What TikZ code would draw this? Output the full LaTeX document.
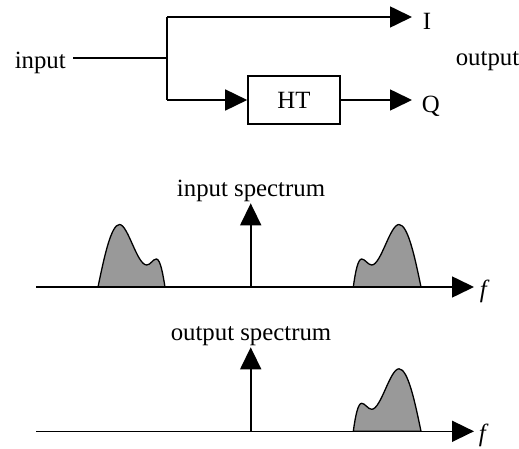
\documentclass[tikz,border=0pt]{standalone}
\usepackage{fontspec}
\setmainfont{Liberation Serif}
\usetikzlibrary{arrows.meta}
\begin{document}
\begin{tikzpicture}[x=1pt,y=-1pt, line width=1.6pt,
  tip/.style={-{Triangle[length=22pt,width=21pt]}},
  lbl/.style={inner sep=0pt, font=\fontsize{24.8}{29}\selectfont},
  ilbl/.style={inner sep=0pt, font=\fontsize{24.8}{29}\selectfont\itshape},
  htbox/.style={draw, minimum width=92pt, minimum height=48pt, inner sep=0pt, font=\fontsize{24.8}{29}\selectfont},
  bump/.style={fill=black!40, draw=black, line width=1.3pt}]
\useasboundingbox (0,0) rectangle (519,449);

% ---- block diagram ----
\node[lbl, anchor=base west] (inp) at (14,68.3) {input};
\coordinate (inl) at (73,58);
\coordinate (split) at (167,58);
\coordinate (top) at (167,17);
\coordinate (bot) at (167,100);
\node[htbox] (ht) at (294,100) {HT};
\coordinate (Itip) at (412,17);
\coordinate (Qtip) at (412,100);
\node[lbl, anchor=base west] (I) at (422,30) {I};
\node[lbl, anchor=base west] (Q) at (421,113) {Q};
\node[lbl, anchor=base west] (out) at (455,66) {output};

\draw (inl) -- (split);
\draw (top) -- (bot);
\draw[tip] (top) -- (Itip);
\draw[tip] (bot) -- (ht.west);
\draw[tip] (ht.east) -- (Qtip);

% ---- input spectrum ----
\filldraw[bump] (98,287) .. controls (104,258) and (111,224.5) .. (119.5,224.5)
  .. controls (128,224.5) and (137,265) .. (146.7,265)
  .. controls (150.5,265) and (153,259) .. (156.3,259)
  .. controls (160.5,259) and (163,275) .. (165,287) -- cycle;
\filldraw[bump] (353.3,287) .. controls (355.5,271) and (358,259) .. (361.7,259)
  .. controls (365,259) and (368,265) .. (371.7,265)
  .. controls (381,265) and (390,224.5) .. (399,224.5)
  .. controls (408,224.5) and (415,258) .. (421,287) -- cycle;
\coordinate (a1s) at (36,287);
\coordinate (a1e) at (474,287);
\draw[tip] (a1s) -- (a1e);
\node[ilbl, anchor=base west] (f1) at (479,297) {f};
\coordinate (v1s) at (250.7,287);
\coordinate (v1e) at (250.7,203.3);
\draw[tip] (v1s) -- (v1e);
\node[lbl, anchor=base] (ins) at (251,196.7) {input spectrum};

% ---- output spectrum ----
\begin{scope}[shift={(0,144.3)}]
\filldraw[bump] (353.3,287) .. controls (355.5,271) and (358,259) .. (361.7,259)
  .. controls (365,259) and (368,265) .. (371.7,265)
  .. controls (381,265) and (390,224.5) .. (399,224.5)
  .. controls (408,224.5) and (415,258) .. (421,287) -- cycle;
\end{scope}
\coordinate (a2s) at (36,431.3);
\coordinate (a2e) at (474,431.3);
\draw[tip] (a2s) -- (a2e);
\node[ilbl, anchor=base west] (f2) at (478,441.5) {f};
\coordinate (v2s) at (250.7,431.3);
\coordinate (v2e) at (250.7,347.3);
\draw[tip] (v2s) -- (v2e);
\node[lbl, anchor=base] (outs) at (251,340) {output spectrum};
\end{tikzpicture}
\end{document}
